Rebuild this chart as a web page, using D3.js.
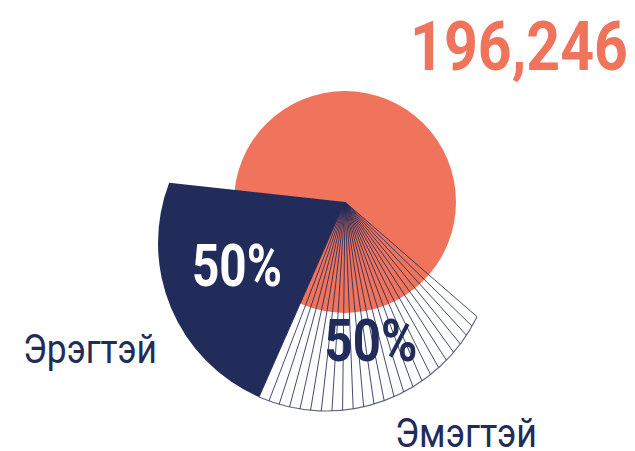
<!DOCTYPE html>
<html>
<head>
<meta charset="utf-8">
<script src="https://cdn.jsdelivr.net/npm/d3@7"></script>
<style>
  body { margin: 0; background: #fff; }
  text { font-family: Roboto, "Noto Sans", sans-serif; }
</style>
</head>
<body>
<svg id="chart" width="635" height="451"></svg>
<script>
// values
var categories = ['Эрэгтэй', 'Эмэгтэй'];
var shares = [50, 50];
var total = 196246;

var navy = '#212c5a', salmon = '#f0735b';
var svg = d3.select('#chart');

var apex = [345, 202];                 // centre of the disc, tip of the fan
var rim = {cx: 326, cy: 243, r: 168};  // outer rim of the fan (off-centre)
var deg = Math.PI / 180;

// disc size from the total
var rScale = d3.scaleSqrt().domain([0, total]).range([0, 111]);

// fan covers half a turn, female first going clockwise
var pie = d3.pie().sort(null).value(function (d) { return d.value; })
    .startAngle(116 * deg).endAngle(291 * deg);
var slices = pie([
    {name: categories[1], value: shares[1]},
    {name: categories[0], value: shares[0]}
]);
var female = slices[0], male = slices[1];

function rimPt(a) {
    return [rim.cx + rim.r * Math.sin(a), rim.cy - rim.r * Math.cos(a)];
}
function sector(s) {
    var p = d3.path(), a = rimPt(s.startAngle);
    p.moveTo(apex[0], apex[1]);
    p.lineTo(a[0], a[1]);
    p.arc(rim.cx, rim.cy, rim.r, s.startAngle - Math.PI / 2, s.endAngle - Math.PI / 2);
    p.closePath();
    return p.toString();
}

// total disc
svg.append('circle')
    .attr('cx', apex[0]).attr('cy', apex[1])
    .attr('r', rScale(total))
    .attr('fill', salmon);

// female slice: hatch lines + rim
var nLines = 24;
var hatchAngles = d3.range(nLines + 1).map(function (i) {
    return female.startAngle + (female.endAngle - female.startAngle) * i / nLines;
});
svg.append('g').selectAll('line')
    .data(hatchAngles).enter()
  .append('line')
    .attr('x1', apex[0]).attr('y1', apex[1])
    .attr('x2', function (a) { return rimPt(a)[0]; })
    .attr('y2', function (a) { return rimPt(a)[1]; })
    .attr('stroke', navy)
    .attr('stroke-width', 1)
    .attr('stroke-opacity', 0.85);

var rimPath = d3.path();
var r0 = rimPt(female.startAngle);
rimPath.moveTo(r0[0], r0[1]);
rimPath.arc(rim.cx, rim.cy, rim.r, female.startAngle - Math.PI / 2, female.endAngle - Math.PI / 2);
svg.append('path')
    .attr('d', rimPath.toString())
    .attr('fill', 'none')
    .attr('stroke', navy)
    .attr('stroke-width', 1.2)
    .attr('stroke-opacity', 0.7);

// male slice
svg.append('path')
    .attr('d', sector(male))
    .attr('fill', navy);

// texts
svg.append('text')
    .attr('x', 628).attr('y', 70)
    .attr('text-anchor', 'end')
    .attr('font-size', 68).attr('font-weight', 700)
    .attr('fill', salmon)
    .attr('textLength', 218).attr('lengthAdjust', 'spacingAndGlyphs')
    .text(d3.format(',')(total));

svg.append('text')
    .attr('x', 237).attr('y', 286)
    .attr('text-anchor', 'middle')
    .attr('font-size', 59).attr('font-weight', 700)
    .attr('fill', '#fff')
    .attr('textLength', 90).attr('lengthAdjust', 'spacingAndGlyphs')
    .text(male.data.value + '%');

svg.append('text')
    .attr('x', 371).attr('y', 361)
    .attr('text-anchor', 'middle')
    .attr('font-size', 60).attr('font-weight', 700)
    .attr('fill', navy)
    .attr('textLength', 93).attr('lengthAdjust', 'spacingAndGlyphs')
    .text(female.data.value + '%');

svg.append('text')
    .attr('x', 23).attr('y', 363)
    .attr('font-size', 41)
    .attr('fill', navy)
    .attr('textLength', 134).attr('lengthAdjust', 'spacingAndGlyphs')
    .text(male.data.name);

svg.append('text')
    .attr('x', 395).attr('y', 447)
    .attr('font-size', 40)
    .attr('fill', navy)
    .attr('textLength', 142).attr('lengthAdjust', 'spacingAndGlyphs')
    .text(female.data.name);
</script>
</body>
</html>
